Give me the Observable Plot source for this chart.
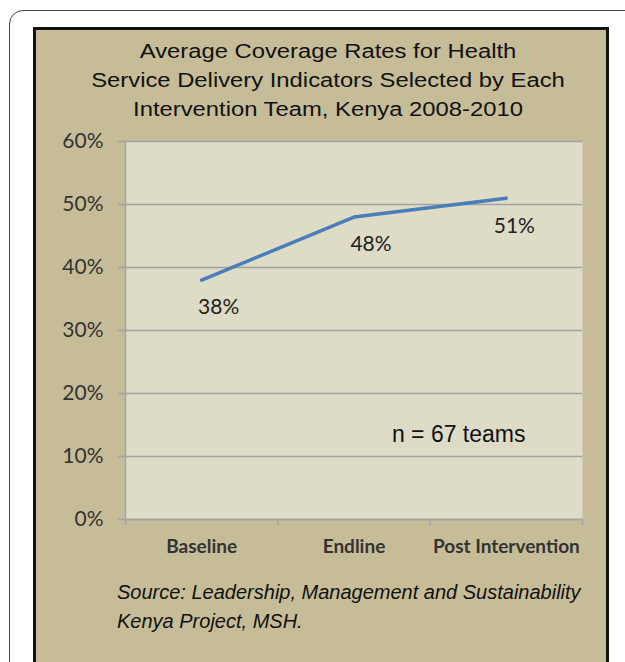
<!DOCTYPE html>
<html>
<head>
<meta charset="utf-8">
<script src="https://cdn.jsdelivr.net/npm/d3@7"></script>
<script src="https://cdn.jsdelivr.net/npm/@observablehq/plot@0.6"></script>
<style>
  html, body { margin: 0; padding: 0; background: #fff; width: 625px; height: 662px; overflow: hidden; }
  #outer { position: absolute; left: 9px; top: 10px; width: 680px; height: 720px; border: 1.5px solid #444; border-radius: 14px; box-sizing: border-box; }
  #panel { position: absolute; left: 33px; top: 27px; width: 576px; height: 720px; border: 3px solid #111; background: #c6bd98; box-sizing: border-box; }
  #title { position: absolute; left: 108px; width: 440px; top: 37px; text-align: center; font-family: "Liberation Sans", Arial, sans-serif; font-size: 20px; line-height: 29px; color: #111; transform: scaleX(1.19); transform-origin: 50% 50%; }
  #chart { position: absolute; left: 36px; top: 125px; }
  #caption { position: absolute; left: 117px; top: 578px; font-family: "Liberation Sans", Arial, sans-serif; font-style: italic; font-size: 20px; line-height: 29px; color: #111; }
</style>
</head>
<body>
<div id="outer"></div>
<div id="panel"></div>
<div id="title">Average Coverage Rates for Health<br>Service Delivery Indicators Selected by Each<br>Intervention Team, Kenya 2008-2010</div>
<div id="chart"></div>
<div id="caption">Source: Leadership, Management and Sustainability<br>Kenya Project, MSH.</div>
<script>
const categories = ["Baseline", "Endline", "Post Intervention"];
const coverage = [0.38, 0.48, 0.51];
const yTicks = [0, 0.1, 0.2, 0.3, 0.4, 0.5, 0.6];
const note = "n = 67 teams";

const data = categories.map((c, i) => ({i, category: c, value: coverage[i]}));
const indices = categories.map((c, i) => i);
const bounds = [...categories.map((c, i) => i - 0.5), categories.length - 0.5];
const pct = d3.format(".0%");

const chart = Plot.plot({
  width: 570,
  height: 440,
  marginLeft: 89,
  marginRight: 24,
  marginTop: 16,
  marginBottom: 46,
  style: {fontFamily: "Lato, 'Open Sans', sans-serif", background: "transparent", overflow: "visible"},
  x: {type: "linear", domain: [-0.5, categories.length - 0.5]},
  y: {domain: [0, 0.6]},
  marks: [
    Plot.frame({fill: "#dedbc7", stroke: null}),
    Plot.gridY(yTicks, {stroke: "#a3a3a3", strokeOpacity: 1, strokeWidth: 1.5}),
    Plot.ruleY([0], {stroke: "#a3a3a3", strokeWidth: 1.5}),
    Plot.frame({anchor: "left", stroke: "#a3a3a3", strokeWidth: 1.5}),
    Plot.axisY(yTicks, {tickSize: 7, tickPadding: 15, tickFormat: pct, fontSize: 21, fill: "#333", stroke: "#a3a3a3", strokeWidth: 1.5, label: null}),
    Plot.axisX(bounds, {tickSize: 6, tickFormat: () => "", stroke: "#a3a3a3", strokeWidth: 1.5, label: null}),
    Plot.axisX(indices, {tickSize: 0, tickPadding: 20, tickFormat: i => categories[i], fontSize: 19, fontWeight: "bold", fill: "#333", label: null}),
    Plot.line(data, {x: "i", y: "value", stroke: "#4a7ebb", strokeWidth: 3.5}),
    Plot.text(data.slice(0, 2), {x: "i", y: "value", text: d => pct(d.value), dx: 17, dy: 27, fontSize: 21, fill: "#222"}),
    Plot.text(data.slice(2), {x: "i", y: "value", text: d => pct(d.value), dx: 8, dy: 28, fontSize: 21, fill: "#222"}),
    Plot.text([note], {text: d => d, frameAnchor: "bottom-right", textAnchor: "end", dx: -57, dy: -77.5, fontSize: 23, fontFamily: "'Liberation Sans', Arial, sans-serif", fill: "#111"})
  ]
});
document.getElementById("chart").appendChild(chart);
</script>
</body>
</html>
